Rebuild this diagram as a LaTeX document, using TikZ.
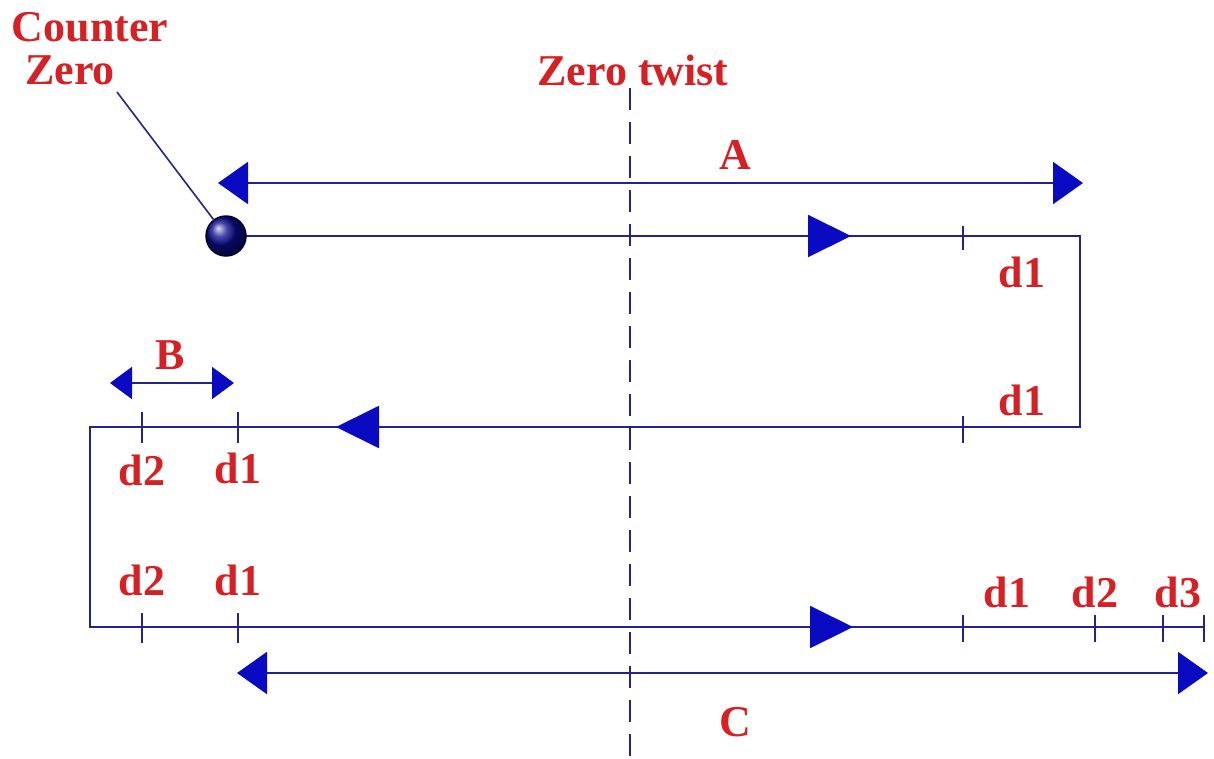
\documentclass[tikz,border=0pt]{standalone}
\usepackage{fontspec}
\setmainfont{Liberation Serif}
\usetikzlibrary{arrows.meta}
\definecolor{lbl}{RGB}{214,32,36}
\definecolor{ln}{RGB}{35,35,140}
\definecolor{tipc}{RGB}{10,10,195}
\begin{document}
\begin{tikzpicture}[x=1pt,y=-1pt,
  lab/.style={text=lbl,font=\fontsize{44}{48}\selectfont\bfseries,inner sep=0pt},
  route/.style={draw=ln,line width=2pt},
  tick/.style={draw=ln,line width=2pt},
  dim/.style={draw=ln,line width=2pt,{Triangle[length=30pt,width=42pt,fill=tipc,color=tipc]}-{Triangle[length=30pt,width=42pt,fill=tipc,color=tipc]}},
  smalldim/.style={draw=ln,line width=2pt,{Triangle[length=22pt,width=32pt,fill=tipc,color=tipc]}-{Triangle[length=22pt,width=32pt,fill=tipc,color=tipc]}},
  midtip/.style={draw=ln,line width=2pt,-{Triangle[length=43pt,width=42pt,fill=tipc,color=tipc]}}
]
\useasboundingbox (0,0) rectangle (1214,758);
% zero twist dashed line
\coordinate (zt1) at (630,88);
\coordinate (zt2) at (630,756);
\draw[ln,line width=2pt,dash pattern=on 22pt off 12pt] (zt1) -- (zt2);
% labels
\node[lab] (counter) at (90,27) {Counter};
\node[lab] (zero) at (70,70) {Zero};
\node[lab] (ztw) at (633,70) {Zero twist};
\node[lab] (la) at (735,155) {A};
\node[lab] (lb) at (170,355) {B};
\node[lab] (lc) at (735,722) {C};
\node[lab] (t1) at (1022,272) {d1};
\node[lab] (t2) at (1022,400) {d1};
\node[lab] (t3) at (142,470) {d2};
\node[lab] (t4) at (238,468) {d1};
\node[lab] (t5) at (142,580) {d2};
\node[lab] (t6) at (238,580) {d1};
\node[lab] (t7) at (1007,592) {d1};
\node[lab] (t8) at (1095,592) {d2};
\node[lab] (t9) at (1178,592) {d3};
% route corners
\coordinate (p0) at (226,236);
\coordinate (p1) at (1080,236);
\coordinate (p2) at (1080,427);
\coordinate (p3) at (90,427);
\coordinate (p4) at (90,627);
\coordinate (p5) at (1204,627);
\draw[route] (p0) -- (p1) -- (p2) -- (p3) -- (p4) -- (p5);
% direction arrows
\coordinate (m1) at (851,236);
\coordinate (m2) at (336,427);
\coordinate (m3) at (853,627);
\draw[midtip] (p0) -- (m1);
\draw[midtip] (p2) -- (m2);
\draw[midtip] (p4) -- (m3);
% ticks
\foreach \x/\ya/\yb in {963/226/250, 963/416/443, 142/412/443, 238/412/443, 142/613/643, 238/613/643, 963/615/642, 1095/615/642, 1163/615/642, 1204/615/642}
  \draw[tick] (\x,\ya) -- (\x,\yb);
% dimension arrows
\coordinate (a1) at (218,183);
\coordinate (a2) at (1083,183);
\draw[dim] (a1) -- (a2);
\coordinate (b1) at (110,383);
\coordinate (b2) at (234,383);
\draw[smalldim] (b1) -- (b2);
\coordinate (c1) at (237,673);
\coordinate (c2) at (1208,673);
\draw[dim] (c1) -- (c2);
% counter zero ball
\node[circle,minimum size=40pt,inner sep=0pt,draw={rgb,255:red,0;green,0;blue,50},line width=1.5pt,shading=ball,ball color={rgb,255:red,10;green,10;blue,140}] (ball) at (p0) {};
\coordinate (lead) at (117,92);
\draw[ln,line width=1.6pt] (lead) -- (ball);
\end{tikzpicture}
\end{document}
